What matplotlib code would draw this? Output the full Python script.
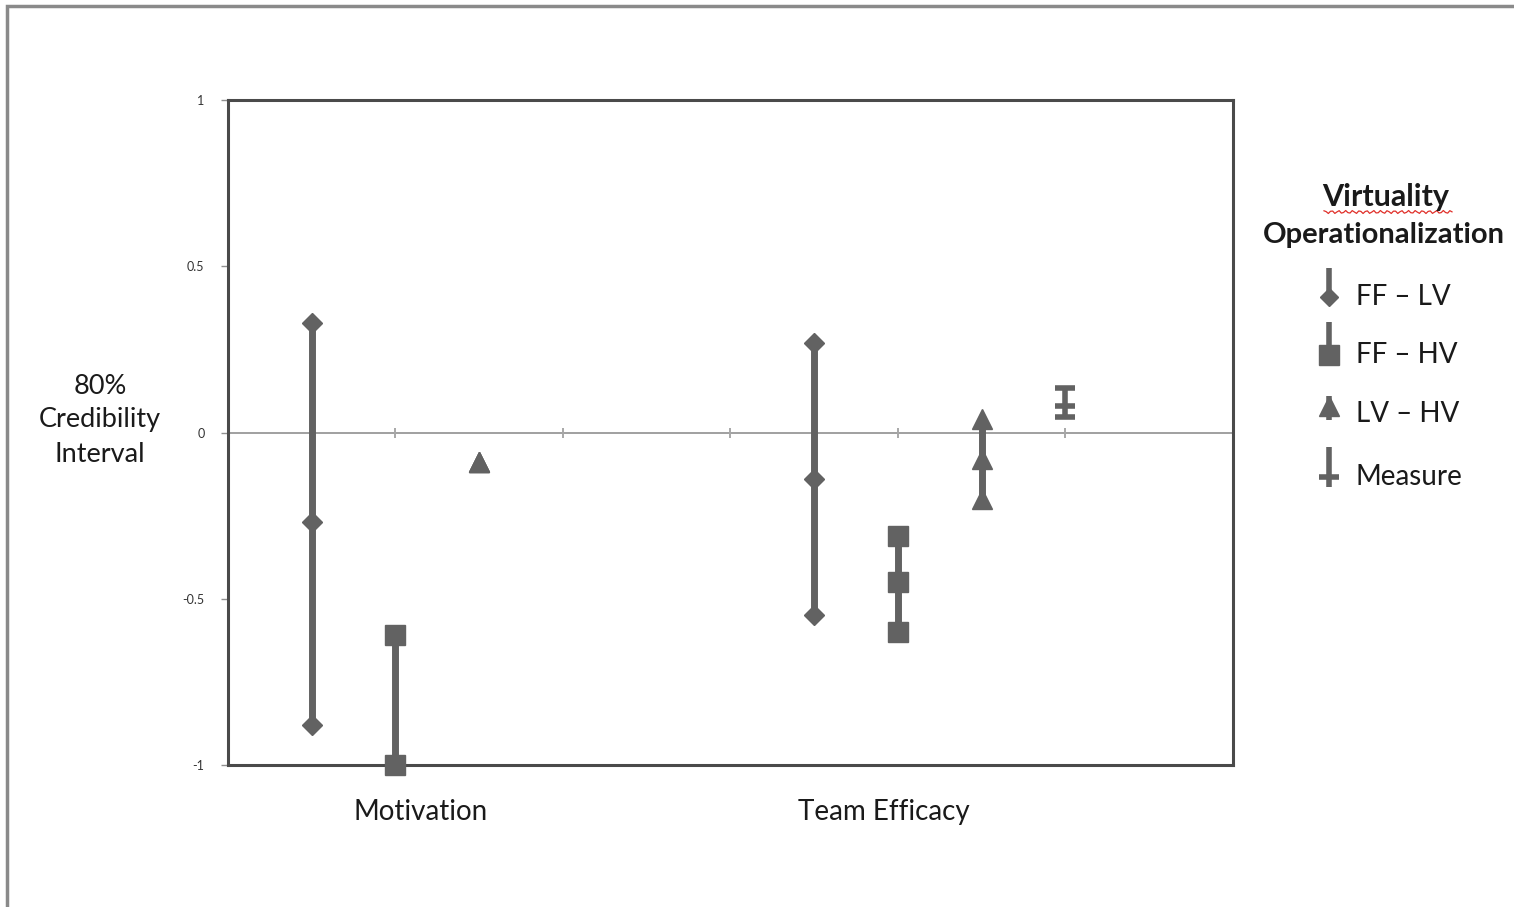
import numpy as np
import matplotlib
matplotlib.use("Agg")
import matplotlib.pyplot as plt

plt.rcParams["font.family"] = ["Lato", "DejaVu Sans"]

# category slots on a 0..12 axis
groups = ["Motivation", "Team Efficacy"]
group_label_x = [2.3, 7.83]

# 80% credibility intervals: upper bound, estimate, lower bound
ff_lv_x = [1, 7]
ff_lv_hi = [0.33, 0.27]
ff_lv_mid = [-0.27, -0.14]
ff_lv_lo = [-0.88, -0.55]

ff_hv_x = [2, 8]
ff_hv_hi = [-0.61, -0.31]
ff_hv_mid = [np.nan, -0.45]
ff_hv_lo = [-1.00, -0.60]

lv_hv_x = [3, 9]
lv_hv_hi = [-0.09, 0.04]
lv_hv_mid = [-0.09, -0.08]
lv_hv_lo = [-0.09, -0.20]

meas_x = [10]
meas_hi = [0.135]
meas_mid = [0.081]
meas_lo = [0.048]

y_ticks = [-1, -0.5, 0, 0.5, 1]
y_ticklabels = ["-1", "-0.5", "0", "0.5", "1"]
zero_ticks = [2, 4, 6, 8, 10]

legend_labels = ["FF \u2013 LV", "FF \u2013 HV", "LV \u2013 HV", "Measure"]

GRAY = "#626262"
W, H = 1514, 907

fig = plt.figure(figsize=(W / 100, H / 100), dpi=100)
fig.patch.set_facecolor("white")
ax = fig.add_axes([228 / W, 1 - 765 / H, 1005 / W, 665 / H])

ax.set_xlim(0, 12)
ax.set_ylim(-1, 1)

# zero reference line with its small category ticks
ax.axhline(0, color="#a0a0a0", lw=1.4, zorder=1)
ax.plot(zero_ticks, np.zeros(len(zero_ticks)), ls="none", marker="|",
        ms=7, mew=1.4, color="#a8a8a8", zorder=1)


def draw_series(xs, hi, mid, lo, marker, ms):
    ax.vlines(xs, lo, hi, color=GRAY, lw=5, zorder=2)
    for vals in (hi, mid, lo):
        ax.plot(xs, vals, ls="none", marker=marker, ms=ms, color=GRAY,
                mec=GRAY, zorder=3, clip_on=False)


draw_series(ff_lv_x, ff_lv_hi, ff_lv_mid, ff_lv_lo, "D", 10.5)
draw_series(ff_hv_x, ff_hv_hi, ff_hv_mid, ff_hv_lo, "s", 15)
draw_series(lv_hv_x, lv_hv_hi, lv_hv_mid, lv_hv_lo, "^", 15)

ax.vlines(meas_x, meas_lo, meas_hi, color=GRAY, lw=4, zorder=2)
for vals in (meas_hi, meas_mid, meas_lo):
    ax.plot(meas_x, vals, ls="none", marker="_", ms=15, mew=4, color=GRAY,
            zorder=3)

# frame and ticks
for side in ("left", "right", "top", "bottom"):
    ax.spines[side].set_color("#4a4a4a")
    ax.spines[side].set_linewidth(2.2)
ax.set_xticks([])
ax.set_yticks(y_ticks)
ax.set_yticklabels(y_ticklabels, fontsize=9, color="#333333")
ax.tick_params(axis="y", length=5, width=1, color="#909090", pad=12)

for gx, name in zip(group_label_x, groups):
    ax.text(gx, -1.14, name, ha="center", va="center", fontsize=20,
            color="#1a1a1a")

# overlay in pixel coordinates for the outer frame, y title and legend
ov = fig.add_axes([0, 0, 1, 1], facecolor="none")
ov.set_xlim(0, W)
ov.set_ylim(H, 0)
ov.axis("off")

ov.plot([7, 7, W + 5], [H + 5, 6, 6], color="#8a8a8a", lw=2.5,
        solid_joinstyle="miter")

ov.text(100, 420, "80%\nCredibility\nInterval", ha="center", va="center",
        fontsize=19.5, color="#1a1a1a", linespacing=1.45)

# legend
ov.text(1386, 197, "Virtuality", ha="center", va="center", fontsize=22,
        fontweight="bold", color="#1a1a1a")
ov.text(1384, 235, "Operationalization", ha="center", va="center",
        fontsize=21, fontweight="bold", color="#1a1a1a")
sq_x = np.linspace(1324, 1452, 60)
ov.plot(sq_x, 212 + 1.5 * np.sin(sq_x * 0.9), color="#e0302a", lw=0.9)

lx = 1329
entries = [
    ("D", 9.5, 268, 297, 297, 297),
    ("s", 14, 322, 355, 355, 355),
    ("^", 14, 396, 420, 406, 414),
    ("_", 14, 447, 487, 477, 477),
]
for (mk, ms, top, bot, my, ty), lab in zip(entries, legend_labels):
    ov.plot([lx, lx], [top, bot], color=GRAY, lw=4, solid_capstyle="butt")
    ov.plot([lx], [my], marker=mk, ms=ms, color=GRAY,
            mew=4 if mk == "_" else 1, mec=GRAY, ls="none")
    ov.text(1356, ty, lab, ha="left", va="center", fontsize=20,
            color="#1a1a1a")

fig.savefig("out.png", dpi=100)
